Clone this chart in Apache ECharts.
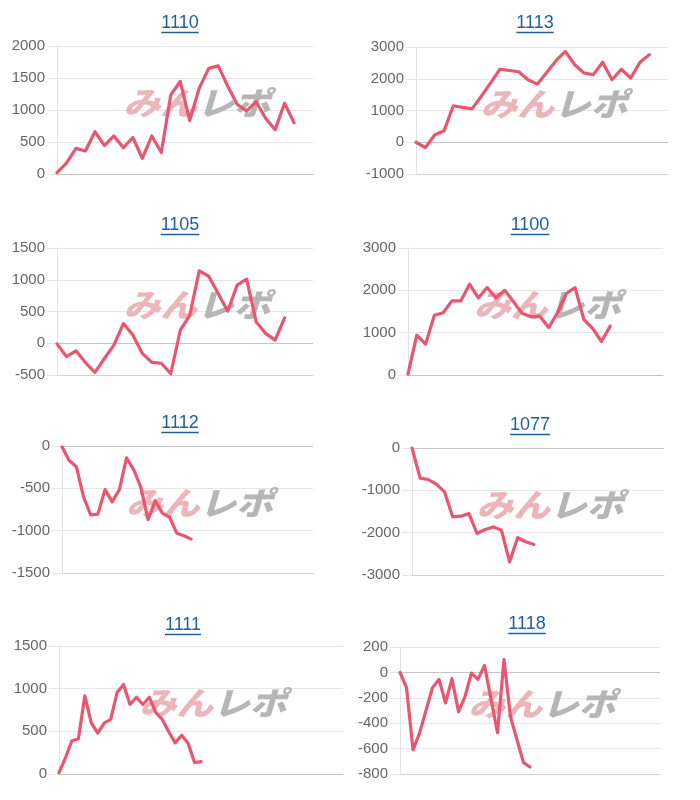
<!DOCTYPE html>
<html>
<head>
<meta charset="utf-8">
<script src="https://cdn.jsdelivr.net/npm/echarts@6/dist/echarts.min.js"></script>
<style>
html,body{margin:0;padding:0;background:#fff;}
#main{width:700px;height:800px;}
</style>
</head>
<body>
<div id="main"></div>
<script>
// ---- data ----
const titles = ['1110', '1113', '1105', '1100', '1112', '1077', '1111', '1118'];

const s1110 = [20, 170, 400, 360, 660, 445, 595, 410, 570, 245, 595, 335, 1235, 1445, 835, 1340, 1650, 1690, 1375, 1090, 985, 1130, 870, 690, 1105, 800];
const s1113 = [0, -170, 230, 360, 1150, 1100, 1050, 1450, 1870, 2300, 2260, 2220, 1970, 1830, 2200, 2570, 2860, 2440, 2180, 2130, 2520, 1970, 2300, 2020, 2520, 2760];
const s1105 = [-10, -210, -120, -305, -460, -240, -30, 310, 130, -160, -300, -315, -480, 205, 440, 1140, 1055, 785, 505, 915, 1010, 340, 155, 50, 400];
const s1100 = [20, 940, 730, 1410, 1470, 1750, 1750, 2145, 1820, 2065, 1820, 2000, 1730, 1450, 1375, 1390, 1120, 1470, 1925, 2065, 1310, 1100, 790, 1155];
const s1112 = [-10, -170, -245, -600, -815, -805, -515, -660, -515, -140, -280, -490, -870, -645, -795, -840, -1030, -1060, -1100];
const s1077 = [0, -710, -745, -855, -1035, -1625, -1610, -1550, -2020, -1925, -1865, -1940, -2690, -2120, -2215, -2280];
const s1111 = [15, 190, 390, 410, 915, 600, 480, 595, 640, 955, 1050, 815, 900, 815, 900, 720, 640, 495, 365, 455, 360, 135, 145];
const s1118 = [0, -120, -610, -480, -300, -120, -55, -240, -50, -310, -190, -5, -55, 55, -210, -475, 100, -350, -530, -710, -745];

const seriesData = [s1110, s1113, s1105, s1100, s1112, s1077, s1111, s1118];

// number of x categories (days) on each chart's axis
const categoryCounts = [28, 28, 28, 30, 36, 32, 45, 41];

// y-axis ticks
const yMins = [0, -1000, -500, 0, -1500, -3000, 0, -800];
const yMaxs = [2000, 3000, 1500, 3000, 0, 0, 1500, 200];
const yIntervals = [500, 1000, 500, 1000, 500, 1000, 500, 200];

// ---- layout (pixels): [left, right, top, bottom] ----
const plotBoxes = [
  [57, 313, 46, 174],
  [416, 668, 47, 174],
  [57, 313, 248, 375],
  [408, 663, 248, 375],
  [62, 313, 446, 573],
  [412, 664, 448, 575],
  [59, 343, 646, 774],
  [400, 660, 647, 774]
];
const titlePos = [[180, 23], [535, 23], [180, 225], [530, 225], [180, 423], [530, 425], [183, 625], [527, 624]];

const LINE_COLOR = '#e8566f';
const GRID_COLOR = '#e6e6e6';
const TITLE_COLOR = '#1f5f9e';
const TITLE_FONT = '18px "Liberation Sans", Arial, sans-serif';

const measureCtx = document.createElement('canvas').getContext('2d');
function textWidth(t, font) { measureCtx.font = font; return measureCtx.measureText(t).width; }

const grids = [], xAxes = [], yAxes = [], series = [], graphics = [];

for (let i = 0; i < 8; i++) {
  const [l, r, t, b] = plotBoxes[i];
  grids.push({ left: l, top: t, width: r - l, height: b - t, containLabel: false, outerBoundsMode: 'none' });
  const cats = Array.from({ length: categoryCounts[i] }, (_, k) => String(k + 1));
  xAxes.push({
    type: 'category', gridIndex: i, data: cats, boundaryGap: false,
    axisLine: { show: true, onZero: false, lineStyle: { color: '#d2d2d2', width: 1 } },
    axisTick: { show: false }, axisLabel: { show: false }, splitLine: { show: false }
  });
  yAxes.push({
    type: 'value', gridIndex: i, min: yMins[i], max: yMaxs[i], interval: yIntervals[i],
    axisLine: { show: true, lineStyle: { color: '#e2e2e2', width: 1 } },
    axisTick: { show: true, length: 10, lineStyle: { color: GRID_COLOR } },
    axisLabel: {
      color: '#666', fontSize: 15, margin: 12, fontFamily: '"Liberation Sans", Arial, sans-serif',
      formatter: v => String(v)
    },
    splitLine: { show: true, lineStyle: { color: GRID_COLOR, width: 1 } }
  });
  series.push({
    type: 'line', xAxisIndex: i, yAxisIndex: i, data: seriesData[i],
    showSymbol: false, symbol: 'none', smooth: false, z: 5,
    lineStyle: { color: LINE_COLOR, width: 3.2, join: 'round', cap: 'round' },
    itemStyle: { color: LINE_COLOR },
    markLine: {
      silent: true, symbol: 'none', animation: false,
      label: { show: false },
      lineStyle: { color: '#c4c4c4', width: 1, type: 'solid' },
      data: [{ yAxis: 0 }]
    }
  });

  // title + underline
  const [cx, cy] = titlePos[i];
  const w = textWidth(titles[i], TITLE_FONT);
  graphics.push({
    type: 'text', x: cx, y: cy, z: 10,
    style: { text: titles[i], fill: TITLE_COLOR, font: TITLE_FONT, align: 'center', verticalAlign: 'middle' }
  });
  graphics.push({
    type: 'line', z: 10,
    shape: { x1: cx - w / 2, y1: cy + 9.5, x2: cx + w / 2, y2: cy + 9.5 },
    style: { stroke: TITLE_COLOR, lineWidth: 1.5 }
  });

  // watermark logo
  const wx = (l + r) / 2 + 12, wy = t + 57;
  graphics.push({
    type: 'text', x: wx, y: wy, z: 1, scaleX: 1.15, scaleY: 1,
    style: {
      text: '{a|みん}{b|レポ}', align: 'center', verticalAlign: 'middle',
      rich: {
        a: { fill: '#ebb5ba', fontSize: 32, fontWeight: 900, fontStyle: 'italic', fontFamily: '"Noto Sans CJK JP", sans-serif' },
        b: { fill: '#b6b6b6', fontSize: 32, fontWeight: 900, fontStyle: 'italic', fontFamily: '"Noto Sans CJK JP", sans-serif' }
      }
    }
  });
}

const chart = echarts.init(document.getElementById('main'), null, { renderer: 'canvas' });
chart.setOption({
  animation: false,
  backgroundColor: '#fff',
  grid: grids,
  xAxis: xAxes,
  yAxis: yAxes,
  series: series,
  graphic: graphics
});
</script>
</body>
</html>
